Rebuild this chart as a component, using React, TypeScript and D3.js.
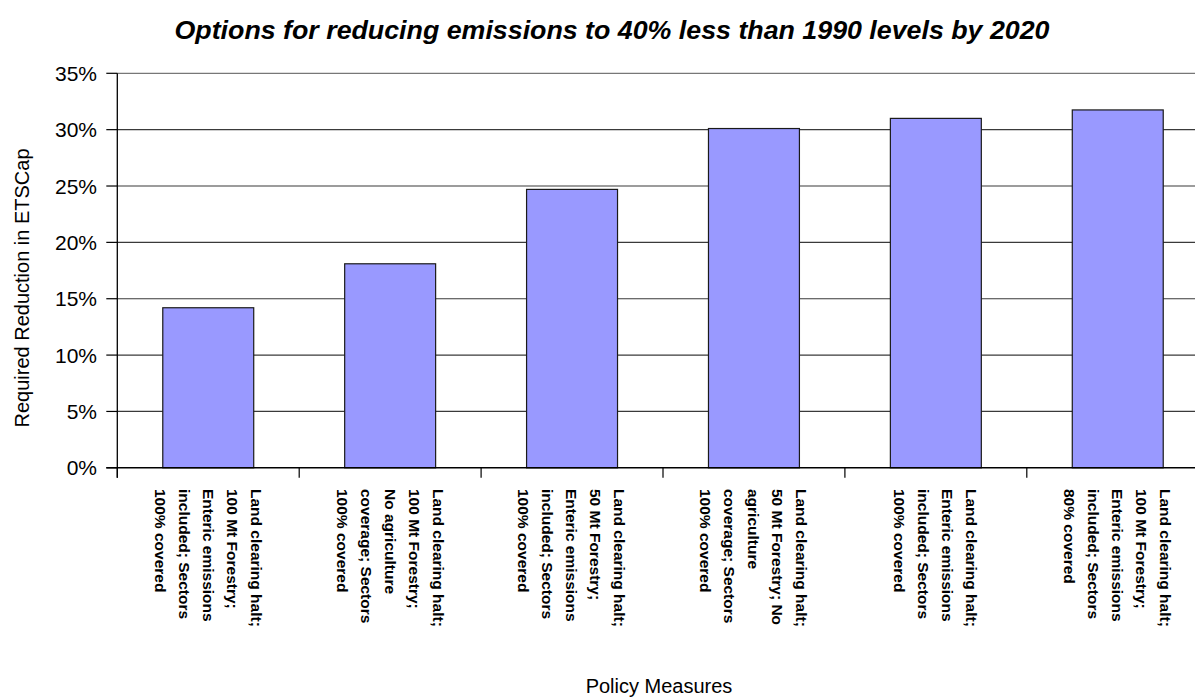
import React from "react";
import * as d3 from "d3";

const categories: string[][] = [
  ["Land clearing halt;", "100 Mt Forestry;", "Enteric emissions", "included; Sectors", "100% covered"],
  ["Land clearing halt;", "100 Mt Forestry;", "No agriculture", "coverage; Sectors", "100% covered"],
  ["Land clearing halt;", "50 Mt Forestry;", "Enteric emissions", "included; Sectors", "100% covered"],
  ["Land clearing halt;", "50 Mt Forestry; No", "agriculture", "coverage; Sectors", "100% covered"],
  ["Land clearing halt;", "Enteric emissions", "included; Sectors", "100% covered"],
  ["Land clearing halt;", "100 Mt Forestry;", "Enteric emissions", "included; Sectors", "80% covered"],
];
const reductions: number[] = [0.142, 0.181, 0.247, 0.301, 0.31, 0.3175];
const yTicks: number[] = [0, 0.05, 0.1, 0.15, 0.2, 0.25, 0.3, 0.35];

const title = "Options for reducing emissions to 40% less than 1990 levels by 2020";
const yTitle = "Required Reduction in ETSCap";
const xTitle = "Policy Measures";

const W = 1195;
const H = 697;
const left = 117.3;
const step = 181.9;
const right = left + step * categories.length;
const top = 73.3;
const bottom = 467.8;
const font = "'Liberation Sans', Arial, Helvetica, sans-serif";

export default function App() {
  const keys = categories.map((_, i) => String(i));
  const x = d3.scaleBand<string>().domain(keys).range([left, right]).paddingInner(0.5).paddingOuter(0.25);
  const y = d3.scaleLinear().domain([0, 0.35]).range([bottom, top]);
  const fmt = d3.format(".0%");
  const lineGap = 24;

  return (
    <div style={{ position: "absolute", left: 0, top: 0, width: W, height: H, overflow: "hidden", background: "#fff" }}>
      <svg width={W} height={H} style={{ display: "block" }} fontFamily={font}>
        <rect x={0} y={0} width={W} height={H} fill="#fff" />
        {/* grid lines */}
        {yTicks.slice(1).map((t) => (
          <line key={"g" + t} x1={left} x2={right} y1={y(t)} y2={y(t)} stroke={t === 0.35 ? "#777" : "#3a3a3a"} strokeWidth={1.2} />
        ))}
        {/* bars */}
        {reductions.map((v, i) => (
          <rect
            key={"b" + i}
            x={x(String(i))}
            y={y(v)}
            width={x.bandwidth()}
            height={y(0) - y(v)}
            fill="#9999ff"
            stroke="#1a1a1a"
            strokeWidth={1.2}
          />
        ))}
        {/* y axis */}
        <line x1={left} x2={left} y1={top} y2={bottom + 10} stroke="#000" strokeWidth={1.3} />
        {yTicks.map((t) => (
          <g key={"t" + t}>
            <line x1={left - 11} x2={left} y1={y(t)} y2={y(t)} stroke="#000" strokeWidth={1.2} />
            <text x={97} y={y(t)} dy="0.36em" textAnchor="end" fontSize={21} fill="#000">
              {fmt(t)}
            </text>
          </g>
        ))}
        {/* x axis */}
        <line x1={left - 11} x2={right} y1={bottom} y2={bottom} stroke="#000" strokeWidth={1.5} />
        {d3.range(categories.length + 1).map((i) => (
          <line key={"xt" + i} x1={left + i * step} x2={left + i * step} y1={bottom} y2={bottom + 10} stroke="#000" strokeWidth={1.2} />
        ))}
        {/* category labels */}
        {categories.map((lines, i) => {
          const cx = (x(String(i)) as number) + x.bandwidth() / 2;
          return lines.map((ln, j) => {
            const lx = cx + ((lines.length - 1) / 2 - j) * lineGap;
            return (
              <text
                key={"c" + i + "-" + j}
                transform={`translate(${lx},${489}) rotate(90)`}
                dy="0.36em"
                fontSize={15.5}
                fontWeight="bold"
                fill="#000"
              >
                {ln}
              </text>
            );
          });
        })}
        {/* titles */}
        <text
          x={612}
          y={39}
          textAnchor="middle"
          fontSize={26}
          fontWeight="bold"
          fontStyle="italic"
          fill="#000"
          textLength={875}
          lengthAdjust="spacingAndGlyphs"
        >
          {title}
        </text>
        <text transform={`translate(29,288) rotate(-90)`} textAnchor="middle" fontSize={20} fill="#000">
          {yTitle}
        </text>
        <text x={659} y={693} textAnchor="middle" fontSize={20} fill="#000">
          {xTitle}
        </text>
      </svg>
    </div>
  );
}
